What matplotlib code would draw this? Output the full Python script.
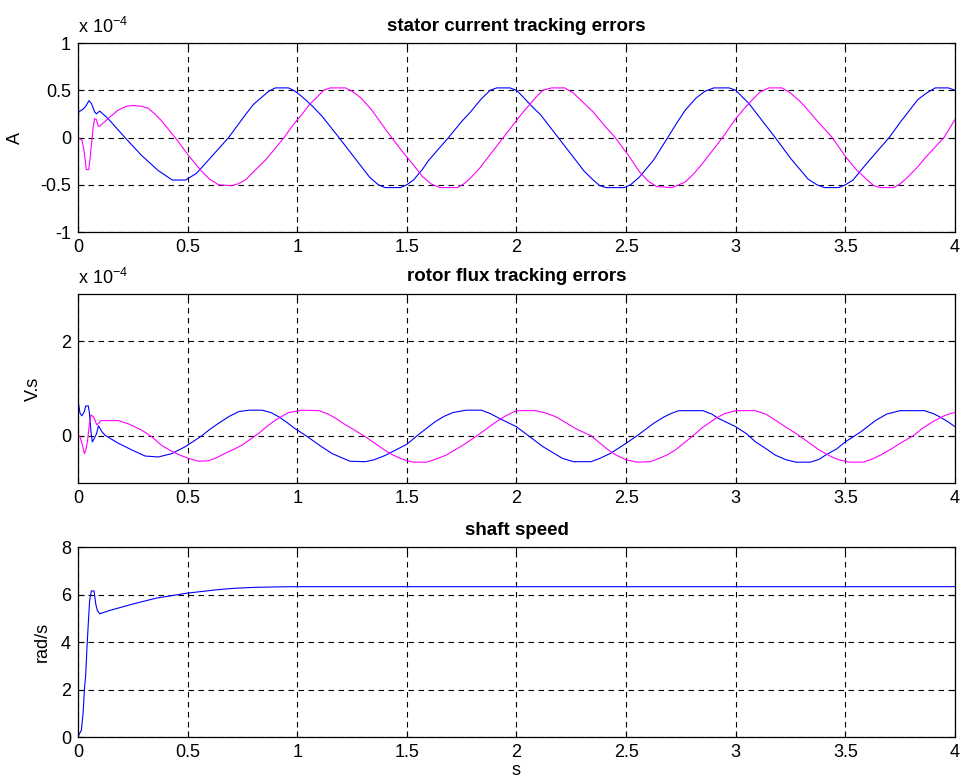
import matplotlib
matplotlib.use('Agg')
import matplotlib.pyplot as plt

plt.rcParams['font.family'] = ['Liberation Sans', 'DejaVu Sans']
plt.rcParams['mathtext.fontset'] = 'custom'
plt.rcParams['mathtext.rm'] = 'Liberation Sans'

# stator current tracking errors (x 1e-4 A)
t_is_a = [0, 0.003, 0.023, 0.035, 0.05, 0.061, 0.076, 0.084, 0.099, 0.137, 0.214, 0.29, 0.366,
          0.43, 0.49, 0.54, 0.61, 0.687, 0.763, 0.80, 0.84, 0.87, 0.90, 0.96, 0.99, 1.023, 1.07,
          1.115, 1.19, 1.28, 1.33, 1.37, 1.40, 1.47, 1.50, 1.53, 1.57, 1.60, 1.69, 1.75, 1.79,
          1.84, 1.88, 1.91, 1.97, 2.00, 2.03, 2.07, 2.11, 2.19, 2.27, 2.31, 2.35, 2.38, 2.41,
          2.49, 2.52, 2.56, 2.625, 2.69, 2.73, 2.77, 2.82, 2.86, 2.90, 2.97, 3.00, 3.06, 3.10,
          3.18, 3.25, 3.29, 3.33, 3.37, 3.405, 3.47, 3.50, 3.535, 3.57, 3.61, 3.70, 3.75, 3.79,
          3.83, 3.87, 3.91, 3.97, 4.0]
is_a = [0, 0.27, 0.30, 0.33, 0.39, 0.36, 0.27, 0.25, 0.28, 0.20, 0.0, -0.19, -0.35,
        -0.45, -0.45, -0.38, -0.2, 0, 0.24, 0.35, 0.43, 0.49, 0.525, 0.525, 0.49, 0.43, 0.33,
        0.22, 0, -0.27, -0.42, -0.50, -0.53, -0.53, -0.50, -0.45, -0.34, -0.24, 0, 0.17, 0.27,
        0.41, 0.5, 0.525, 0.525, 0.50, 0.43, 0.33, 0.24, 0, -0.24, -0.36, -0.45, -0.51, -0.53,
        -0.53, -0.50, -0.42, -0.24, 0, 0.15, 0.29, 0.42, 0.49, 0.525, 0.525, 0.50, 0.36, 0.24,
        0, -0.22, -0.33, -0.44, -0.50, -0.53, -0.53, -0.50, -0.45, -0.35, -0.24, 0, 0.16, 0.28,
        0.40, 0.47, 0.525, 0.525, 0.5]

t_is_b = [0, 0.018, 0.027, 0.038, 0.049, 0.056, 0.069, 0.076, 0.084, 0.092, 0.099, 0.137, 0.183,
          0.22, 0.252, 0.29, 0.32, 0.35, 0.38, 0.443, 0.504, 0.565, 0.60, 0.641, 0.70, 0.73,
          0.763, 0.81, 0.855, 0.94, 0.98, 1.023, 1.06, 1.10, 1.12, 1.15, 1.22, 1.25, 1.29, 1.34,
          1.38, 1.43, 1.48, 1.53, 1.57, 1.61, 1.65, 1.73, 1.76, 1.79, 1.83, 1.86, 1.94, 2.02,
          2.06, 2.09, 2.12, 2.16, 2.22, 2.26, 2.30, 2.35, 2.40, 2.45, 2.52, 2.56, 2.60, 2.64,
          2.71, 2.74, 2.77, 2.81, 2.85, 2.94, 3.0, 3.04, 3.08, 3.11, 3.15, 3.21, 3.25, 3.29,
          3.33, 3.37, 3.44, 3.50, 3.55, 3.60, 3.63, 3.66, 3.72, 3.75, 3.78, 3.83, 3.87, 3.95, 4.0]
is_b = [0, -0.03, -0.13, -0.34, -0.34, -0.2, 0.11, 0.2, 0.19, 0.12, 0.12, 0.2, 0.29,
        0.33, 0.34, 0.33, 0.31, 0.25, 0.18, 0.0, -0.19, -0.36, -0.44, -0.50, -0.51, -0.49,
        -0.45, -0.34, -0.24, 0, 0.13, 0.25, 0.36, 0.45, 0.50, 0.525, 0.525, 0.49, 0.42, 0.29,
        0.16, 0, -0.15, -0.29, -0.41, -0.49, -0.53, -0.53, -0.49, -0.43, -0.33, -0.24, 0, 0.24,
        0.35, 0.43, 0.50, 0.525, 0.525, 0.47, 0.38, 0.27, 0.13, 0, -0.22, -0.36, -0.46, -0.52,
        -0.53, -0.50, -0.47, -0.38, -0.27, 0, 0.2, 0.31, 0.41, 0.48, 0.525, 0.525, 0.47, 0.39,
        0.29, 0.18, 0, -0.2, -0.34, -0.45, -0.51, -0.53, -0.53, -0.49, -0.43, -0.31, -0.2, 0, 0.19]

# rotor flux tracking errors (x 1e-4 V.s)
t_fl_a = [0, 0.002, 0.009, 0.017, 0.029, 0.035, 0.047, 0.052, 0.059, 0.065, 0.074, 0.085, 0.093,
          0.10, 0.108, 0.123, 0.184, 0.245, 0.306, 0.366, 0.427, 0.49, 0.565, 0.60, 0.64, 0.69,
          0.733, 0.78, 0.84, 0.88, 0.916, 0.95, 0.99, 1.04, 1.11, 1.16, 1.21, 1.24, 1.31, 1.35,
          1.40, 1.45, 1.5, 1.56, 1.63, 1.67, 1.71, 1.77, 1.84, 1.88, 1.92, 2.0, 2.04, 2.08,
          2.12, 2.17, 2.21, 2.26, 2.34, 2.38, 2.43, 2.50, 2.55, 2.625, 2.67, 2.70, 2.74, 2.85,
          2.89, 2.92, 2.96, 3.0, 3.05, 3.09, 3.14, 3.18, 3.23, 3.275, 3.34, 3.38, 3.41, 3.46,
          3.5, 3.57, 3.64, 3.69, 3.75, 3.86, 3.90, 3.93, 3.97, 4.0]
fl_a = [1.25, 0.69, 0.48, 0.42, 0.51, 0.63, 0.63, 0.48, 0.09, -0.13, -0.06, 0.05, 0.21,
        0.16, 0.09, 0.01, -0.16, -0.30, -0.43, -0.45, -0.38, -0.23, 0.0, 0.13, 0.26, 0.41,
        0.51, 0.54, 0.54, 0.49, 0.40, 0.29, 0.15, 0, -0.23, -0.38, -0.48, -0.54, -0.55, -0.51,
        -0.42, -0.30, -0.18, 0.05, 0.30, 0.41, 0.49, 0.54, 0.54, 0.47, 0.37, 0.19, 0.05, -0.09,
        -0.23, -0.37, -0.48, -0.55, -0.55, -0.48, -0.37, -0.16, 0, 0.26, 0.39, 0.46, 0.53, 0.53,
        0.46, 0.37, 0.28, 0.19, 0.04, -0.13, -0.28, -0.41, -0.51, -0.56, -0.56, -0.50, -0.41, -0.28,
        -0.13, 0.08, 0.33, 0.46, 0.53, 0.53, 0.47, 0.40, 0.29, 0.19]

t_fl_b = [0, 0.009, 0.020, 0.029, 0.036, 0.044, 0.052, 0.059, 0.07, 0.078, 0.085, 0.093, 0.105,
          0.184, 0.23, 0.29, 0.336, 0.38, 0.427, 0.47, 0.504, 0.55, 0.595, 0.63, 0.672, 0.71,
          0.748, 0.824, 0.86, 0.90, 0.96, 1.023, 1.10, 1.14, 1.175, 1.21, 1.25, 1.31, 1.36, 1.42,
          1.46, 1.50, 1.53, 1.59, 1.63, 1.68, 1.756, 1.82, 1.87, 1.91, 1.95, 2.0, 2.09, 2.14,
          2.18, 2.22, 2.27, 2.34, 2.41, 2.45, 2.50, 2.55, 2.61, 2.65, 2.69, 2.725, 2.80, 2.85,
          2.91, 2.95, 3.0, 3.09, 3.14, 3.18, 3.23, 3.29, 3.38, 3.43, 3.47, 3.52, 3.58, 3.62,
          3.66, 3.71, 3.75, 3.81, 3.85, 3.90, 3.95, 3.98, 4.0]
fl_b = [0.01, -0.02, -0.20, -0.38, -0.30, -0.09, 0.26, 0.44, 0.40, 0.33, 0.23, 0.26, 0.32,
        0.32, 0.25, 0.12, -0.02, -0.20, -0.33, -0.42, -0.48, -0.54, -0.53, -0.47, -0.37, -0.29,
        -0.20, 0.05, 0.19, 0.33, 0.49, 0.54, 0.53, 0.46, 0.37, 0.26, 0.15, -0.02, -0.18, -0.37,
        -0.46, -0.53, -0.56, -0.56, -0.50, -0.41, -0.20, 0, 0.17, 0.30, 0.42, 0.53, 0.53, 0.47,
        0.40, 0.29, 0.15, 0, -0.27, -0.40, -0.51, -0.56, -0.55, -0.48, -0.40, -0.30, -0.02, 0.18,
        0.37, 0.47, 0.53, 0.53, 0.45, 0.33, 0.18, 0, -0.30, -0.43, -0.51, -0.56, -0.56, -0.50,
        -0.41, -0.28, -0.16, 0, 0.15, 0.30, 0.42, 0.47, 0.49]

# shaft speed (rad/s)
t_w = [0, 0.015, 0.023, 0.03, 0.035, 0.041, 0.047, 0.053, 0.061, 0.073, 0.081, 0.088, 0.099,
       0.145, 0.25, 0.358, 0.5, 0.633, 0.71, 0.8, 0.9, 1.0, 4.0]
w = [0.03, 0.28, 0.98, 2.1, 2.6, 3.8, 4.8, 5.75, 6.15, 6.15, 5.6, 5.33, 5.19,
     5.33, 5.6, 5.85, 6.06, 6.2, 6.26, 6.3, 6.32, 6.33, 6.33]

x_ticks = [0, 0.5, 1, 1.5, 2, 2.5, 3, 3.5, 4]

fig = plt.figure(figsize=(9.62, 7.82), dpi=100)
ax1 = fig.add_axes([0.0811, 0.7033, 0.9116, 0.2417])
ax2 = fig.add_axes([0.0811, 0.3824, 0.9116, 0.2417])
ax3 = fig.add_axes([0.0811, 0.0575, 0.9116, 0.2430])


def style(ax, yticks, ylim, title, ylabel, labelx):
    ax.set_xlim(0, 4)
    ax.set_ylim(*ylim)
    ax.set_xticks(x_ticks)
    ax.set_xticklabels(['%g' % v for v in x_ticks])
    ax.set_yticks(yticks)
    ax.set_yticklabels(['%g' % v for v in yticks])
    ax.grid(True, color='black', linestyle=(0, (5, 4)), linewidth=0.8)
    ax.tick_params(direction='in', top=True, right=True, labelsize=13, length=4, pad=5)
    for s in ax.spines.values():
        s.set_linewidth(0.9)
    ax.set_title(title, fontsize=13.5, fontweight='bold', pad=9)
    ax.set_ylabel(ylabel, fontsize=13)
    ax.yaxis.set_label_coords(labelx, 0.5)


ax1.plot(t_is_a, is_a, color='blue', linewidth=0.8)
ax1.plot(t_is_b, is_b, color='magenta', linewidth=0.8)
style(ax1, [-1, -0.5, 0, 0.5, 1], (-1, 1), 'stator current tracking errors', 'A', -0.062)
ax1.text(0.0, 1.03, r'x 10$^{-4}$', transform=ax1.transAxes, fontsize=13, ha='left', va='bottom')

ax2.plot(t_fl_a, fl_a, color='blue', linewidth=0.8)
ax2.plot(t_fl_b, fl_b, color='magenta', linewidth=0.8)
style(ax2, [0, 2], (-1, 3), 'rotor flux tracking errors', 'V.s', -0.041)
ax2.text(0.0, 1.03, r'x 10$^{-4}$', transform=ax2.transAxes, fontsize=13, ha='left', va='bottom')

ax3.plot(t_w, w, color='blue', linewidth=0.8)
style(ax3, [0, 2, 4, 6, 8], (0, 8), 'shaft speed', 'rad/s', -0.031)
ax3.set_xlabel('s', fontsize=13, labelpad=1)

fig.savefig('out.png', dpi=100)
